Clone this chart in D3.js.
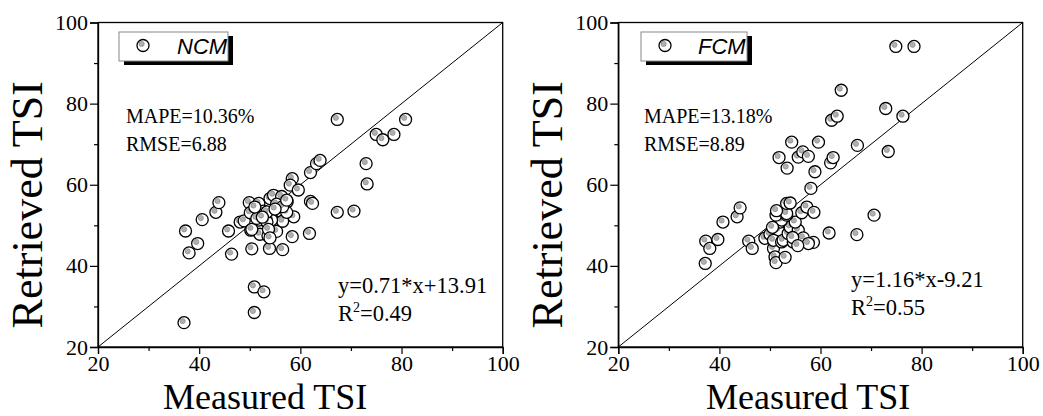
<!DOCTYPE html>
<html><head><meta charset="utf-8">
<script src="https://cdn.jsdelivr.net/npm/d3@7"></script>
<style>body{margin:0;background:#fff}svg{display:block}</style>
</head><body><svg id="c" width="1043" height="416"></svg>
<script>
// ---- data ----
const ncmMeasured = [37.0,37.3,38.0,39.7,40.6,43.3,43.9,45.8,46.4,48.1,50.9,52.8,50.9,50.4,53.9,56.5,58.4,61.8,58.7,58.4,58.0,59.6,62.0,63.2,63.9,67.3,75.0,76.3,78.5,80.8,73.0,73.2,62.0,62.4,67.3,70.6,48.9,49.9,51.8,50.1,50.2,52.0,53.6,55.3,54.0,54.7,56.3,57.4,56.3,56.5,57.3,51.8,52.7,55.3,54.3,53.4,50.4,53.7,54.0,51.4,53.4,56.5,57.3,52.5,55.0,51.0];
const ncmRetrieved = [26.0,48.6,43.2,45.5,51.4,53.2,55.6,48.6,42.9,50.8,34.8,33.6,28.5,44.2,44.3,44.0,47.2,48.0,52.1,61.5,59.9,58.7,63.0,65.2,66.0,76.1,72.4,71.1,72.4,76.1,65.2,60.2,55.9,55.4,53.2,53.5,51.1,55.6,55.4,53.1,48.8,47.8,47.4,48.5,56.6,57.4,57.1,55.8,53.3,51.0,53.2,51.3,53.5,55.2,51.3,50.8,49.0,49.0,46.9,51.7,53.3,54.6,56.2,52.0,54.0,54.5];
const fcmMeasured = [37.2,37.3,38.1,39.7,40.7,43.5,44.1,45.8,46.5,49.0,50.0,50.7,51.0,51.2,53.0,51.7,50.7,52.3,52.6,54.6,55.3,53.6,54.0,55.6,56.6,58.6,57.6,52.0,52.3,55.0,51.2,53.3,53.3,51.3,53.3,54.0,56.3,57.3,58.7,58.1,58.9,61.7,67.2,70.6,53.4,51.8,54.3,55.6,56.5,57.6,59.6,62.0,62.5,62.2,63.3,64.1,67.3,72.9,73.4,76.3,74.9,78.5,50.5,54.5,55.5];
const fcmRetrieved = [40.6,46.1,44.3,46.5,50.8,52.1,54.3,46.1,44.3,46.8,47.8,44.3,42.2,40.8,42.1,48.8,46.3,45.9,46.3,45.9,48.8,48.0,49.6,48.8,46.9,45.8,45.5,50.8,51.3,50.8,52.5,52.5,52.9,53.6,55.4,55.5,53.1,54.5,53.2,59.1,63.2,48.1,47.7,52.5,64.1,66.7,70.5,66.8,68.1,67.0,70.5,65.4,66.7,75.9,76.9,83.3,69.7,78.8,68.2,76.9,94.1,94.1,49.5,47.0,45.0];
const axisTicks = [20,40,60,80,100];
const minorTicks = [30,50,70,90];
const legendLabels = ["NCM","FCM"];
const mapeLabels = ["MAPE=10.36%","MAPE=13.18%"];
const rmseLabels = ["RMSE=6.88","RMSE=8.89"];
const eqLabels = ["y=0.71*x+13.91","y=1.16*x-9.21"];
const r2Labels = ["=0.49","=0.55"];
const xTitle = "Measured TSI", yTitle = "Retrieved TSI";

// ---- layout ----
const svg = d3.select("#c");
const serif = "'Liberation Serif','Times New Roman',serif";
const layouts = [
  {x0:98, x1:502.7, ttlX:163, eqX:338, eqY:293, txtX:126, legX:119, legW:109, legTxt:177},
  {x0:618.3, x1:1022.7, ttlX:706, eqX:851, eqY:287, txtX:644, legX:641, legW:106, legTxt:698}
];
const yTop = 22.5, yBot = 347;
const datasets = [[ncmMeasured, ncmRetrieved],[fcmMeasured, fcmRetrieved]];

function marker(g, cx, cy){
  g.append("circle").attr("cx",cx).attr("cy",cy).attr("r",6)
    .attr("fill","#fff").attr("stroke","#000").attr("stroke-width",1.3);
  g.append("circle").attr("cx",cx-1.4).attr("cy",cy-1.6).attr("r",2.6)
    .attr("fill","#b0b0b0").attr("stroke","#8a8a8a").attr("stroke-width",0.7);
}

layouts.forEach((L,i)=>{
  const x = d3.scaleLinear().domain([20,100]).range([L.x0,L.x1]);
  const y = d3.scaleLinear().domain([20,100]).range([yBot,yTop]);
  const g = svg.append("g");

  // frame
  g.append("rect").attr("x",L.x0).attr("y",yTop).attr("width",L.x1-L.x0).attr("height",yBot-yTop)
    .attr("fill","none").attr("stroke","#000").attr("stroke-width",1.3);

  // axes
  const xa = g.append("g").attr("transform",`translate(0,${yBot})`)
    .call(d3.axisBottom(x).tickValues(axisTicks).tickSize(7).tickPadding(1).tickFormat(d3.format("d")));
  g.append("g").attr("transform",`translate(0,${yBot})`)
    .call(d3.axisBottom(x).tickValues(minorTicks).tickSize(4).tickFormat(""))
    .call(s=>s.select(".domain").remove());
  const ya = g.append("g").attr("transform",`translate(${L.x0},0)`)
    .call(d3.axisLeft(y).tickValues(axisTicks).tickSize(8).tickPadding(2).tickFormat(d3.format("d")));
  g.append("g").attr("transform",`translate(${L.x0},0)`)
    .call(d3.axisLeft(y).tickValues(minorTicks).tickSize(4).tickFormat(""))
    .call(s=>s.select(".domain").remove());
  g.selectAll(".domain").attr("stroke","#000").attr("stroke-width",1.3);
  g.selectAll(".tick line").attr("stroke","#000").attr("stroke-width",1.2);
  g.selectAll(".tick text").attr("font-family",serif).attr("font-size",22).attr("fill","#000");

  // titles
  g.append("text").attr("x",L.ttlX).attr("y",408.5).attr("font-family",serif).attr("font-size",36)
    .text(xTitle);
  g.append("text").attr("transform",`translate(${L.x0-56},${(yTop+yBot)/2+20}) rotate(-90)`)
    .attr("text-anchor","middle").attr("font-family",serif).attr("font-size",44).text(yTitle);

  // 1:1 line
  g.append("line").attr("x1",x(20)).attr("y1",y(20)).attr("x2",x(100)).attr("y2",y(100))
    .attr("stroke","#000").attr("stroke-width",1);

  // stats text
  g.append("text").attr("x",L.txtX).attr("y",123).attr("font-family",serif).attr("font-size",20).text(mapeLabels[i]);
  g.append("text").attr("x",L.txtX).attr("y",151).attr("font-family",serif).attr("font-size",20).text(rmseLabels[i]);
  g.append("text").attr("x",L.eqX).attr("y",L.eqY).attr("font-family",serif).attr("font-size",22.5).text(eqLabels[i]);
  const r2 = g.append("text").attr("x",L.eqX).attr("y",L.eqY+28).attr("font-family",serif).attr("font-size",22.5);
  r2.append("tspan").text("R");
  r2.append("tspan").attr("font-size",14).attr("dy",-9).text("2");
  r2.append("tspan").attr("dy",9).text(r2Labels[i]);

  // points
  const [mx, ry] = datasets[i];
  const pg = g.append("g");
  mx.forEach((v,k)=>marker(pg, x(v), y(ry[k])));

  // legend
  g.append("rect").attr("x",L.legX+5).attr("y",36).attr("width",L.legW).attr("height",29).attr("fill","#000");
  g.append("rect").attr("x",L.legX).attr("y",32).attr("width",L.legW).attr("height",29)
    .attr("fill","#fff").attr("stroke","#888").attr("stroke-width",1);
  marker(g, L.legX+24, 45.5);
  g.append("text").attr("x",L.legTxt).attr("y",54).attr("font-family","'Liberation Sans',Arial,sans-serif")
    .attr("font-style","italic").attr("font-size",22).text(legendLabels[i]);
});
</script></body></html>
